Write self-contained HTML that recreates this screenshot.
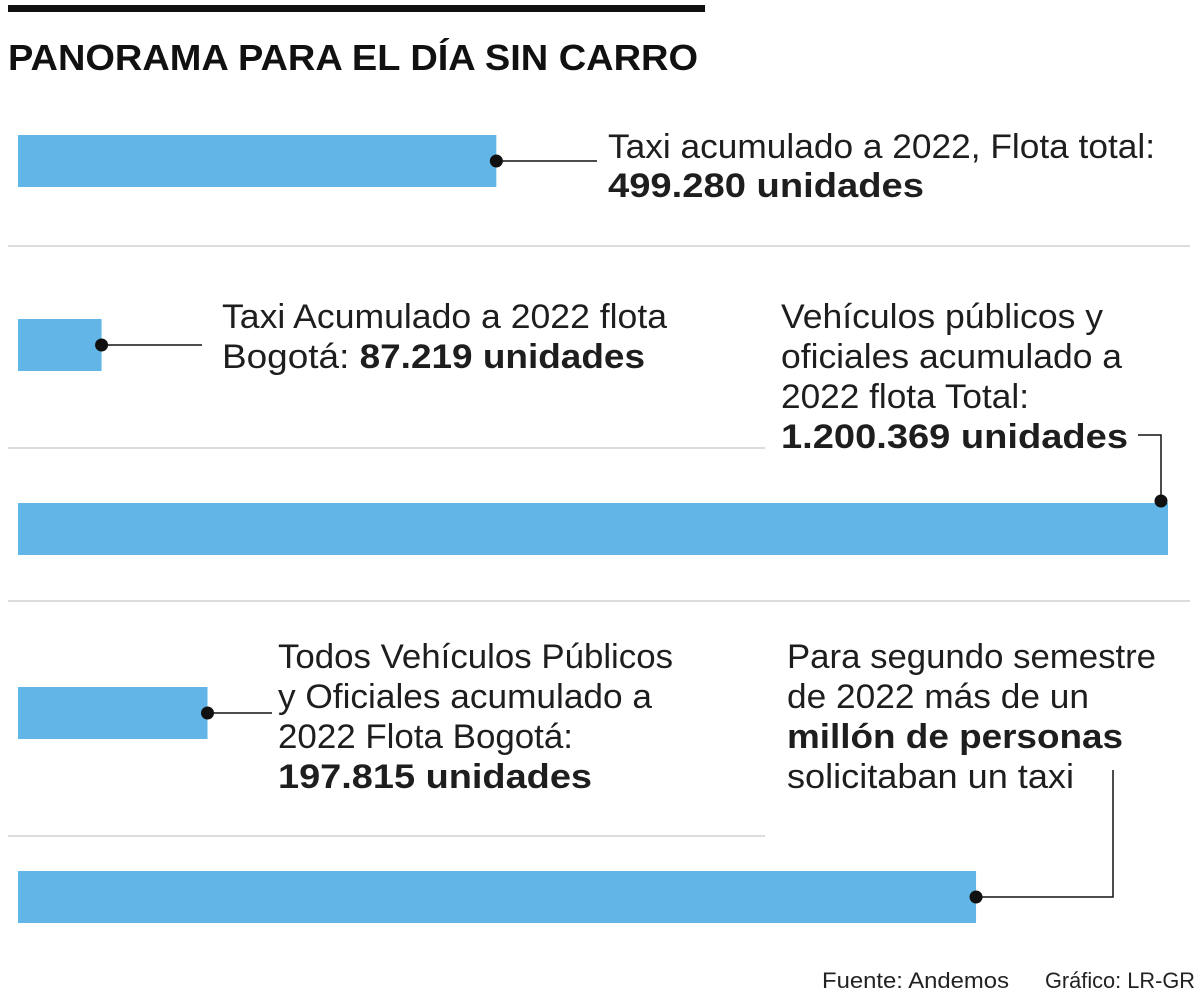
<!DOCTYPE html>
<html><head><meta charset="utf-8"><style>
html,body{margin:0;padding:0;background:#fff;}
svg{display:block;font-family:"Liberation Sans",sans-serif;}
.t{font-size:34px;fill:#1e1e1e;}
.b{font-weight:bold;}
</style></head><body>
<svg id="chart" width="1200" height="1001" viewBox="0 0 1200 1001">
<rect x="8" y="5" width="697" height="7" fill="#111"/>
<text x="8" y="70" font-size="36" font-weight="bold" fill="#111" textLength="690" lengthAdjust="spacingAndGlyphs">PANORAMA PARA EL DÍA SIN CARRO</text>
<g stroke="#c8c8c8" stroke-width="1.2">
<line x1="8" y1="246" x2="1190" y2="246"/><line x1="8" y1="448" x2="765" y2="448"/>
<line x1="8" y1="601" x2="1190" y2="601"/><line x1="8" y1="836" x2="765" y2="836"/>
</g>
<g id="bars"></g>
<g stroke="#111" stroke-width="1.5" fill="none">
<polyline id="l0"/><polyline id="l1"/><polyline id="l2"/><polyline id="l3"/><polyline id="l4"/>
</g>
<g id="dots"></g>

<g class="t">
<text x="608" y="158" textLength="547" lengthAdjust="spacingAndGlyphs">Taxi acumulado a 2022, Flota total:</text>
<text x="608" y="197" class="b" textLength="316" lengthAdjust="spacingAndGlyphs">499.280 unidades</text>
</g>
<g class="t">
<text x="222" y="328" textLength="445" lengthAdjust="spacingAndGlyphs">Taxi Acumulado a 2022 flota</text>
<text x="222" y="368" textLength="423" lengthAdjust="spacingAndGlyphs">Bogotá: <tspan class="b">87.219 unidades</tspan></text>
</g>
<g class="t">
<text x="781" y="328" textLength="322" lengthAdjust="spacingAndGlyphs">Vehículos públicos y</text>
<text x="781" y="368" textLength="341" lengthAdjust="spacingAndGlyphs">oficiales acumulado a</text>
<text x="781" y="408" textLength="248" lengthAdjust="spacingAndGlyphs">2022 flota Total:</text>
<text x="781" y="448" class="b" textLength="347" lengthAdjust="spacingAndGlyphs">1.200.369 unidades</text>
</g>
<g class="t">
<text x="278" y="668" textLength="395" lengthAdjust="spacingAndGlyphs">Todos Vehículos Públicos</text>
<text x="278" y="708" textLength="374" lengthAdjust="spacingAndGlyphs">y Oficiales acumulado a</text>
<text x="278" y="748" textLength="295" lengthAdjust="spacingAndGlyphs">2022 Flota Bogotá:</text>
<text x="278" y="788" class="b" textLength="314" lengthAdjust="spacingAndGlyphs">197.815 unidades</text>
</g>
<g class="t">
<text x="787" y="668" textLength="369" lengthAdjust="spacingAndGlyphs">Para segundo semestre</text>
<text x="787" y="708" textLength="302" lengthAdjust="spacingAndGlyphs">de 2022 más de un</text>
<text x="787" y="748" class="b" textLength="336" lengthAdjust="spacingAndGlyphs">millón de personas</text>
<text x="787" y="788" textLength="287" lengthAdjust="spacingAndGlyphs">solicitaban un taxi</text>
</g>
<text x="822" y="988" font-size="22" fill="#222" textLength="187" lengthAdjust="spacingAndGlyphs">Fuente: Andemos</text>
<text x="1045" y="988" font-size="22" fill="#222" textLength="150" lengthAdjust="spacingAndGlyphs">Gráfico: LR-GR</text>
</svg>
<script>
const categories = ["Taxi total", "Taxi Bogotá", "Públicos total", "Públicos Bogotá", "Personas"];
const values = [499280, 87219, 1200369, 197815, 1000000];
const maxValue = 1200369;
const X0 = 18, W = 1150;
const barTops = [135, 319, 503, 687, 871];
const BH = 52;
function xScale(v){ return X0 + v / maxValue * W; }
const NS = "http://www.w3.org/2000/svg";
const gb = document.getElementById('bars'), gd = document.getElementById('dots');
values.forEach((v,i)=>{
  const r = document.createElementNS(NS,'rect');
  r.setAttribute('x', X0); r.setAttribute('y', barTops[i]);
  r.setAttribute('width', xScale(v)-X0); r.setAttribute('height', BH);
  r.setAttribute('fill', '#62b6e7');
  
  
  gb.appendChild(r);
});
const dotPts = values.map((v,i)=>{
  let x = xScale(v), y = barTops[i] + BH/2;
  if (i===2) { x -= 7; y = barTops[i] - 2; }
  return [x,y];
});
dotPts.forEach((p,i)=>{
  const c = document.createElementNS(NS,'circle');
  c.setAttribute('cx', p[0]); c.setAttribute('cy', p[1]); c.setAttribute('r', 6.5);
  c.setAttribute('fill', '#111');
  
  
  gd.appendChild(c);
});
const lp = [
  [[dotPts[0][0],dotPts[0][1]],[597,dotPts[0][1]]],
  [[dotPts[1][0],dotPts[1][1]],[202,dotPts[1][1]]],
  [[dotPts[2][0],dotPts[2][1]],[dotPts[2][0],435],[1138,435]],
  [[dotPts[3][0],dotPts[3][1]],[272,dotPts[3][1]]],
  [[dotPts[4][0],dotPts[4][1]],[1113,dotPts[4][1]],[1113,770]]
];
lp.forEach((pts,i)=>document.getElementById('l'+i).setAttribute('points', pts.map(p=>p.join(',')).join(' ')));
</script>
</body></html>
